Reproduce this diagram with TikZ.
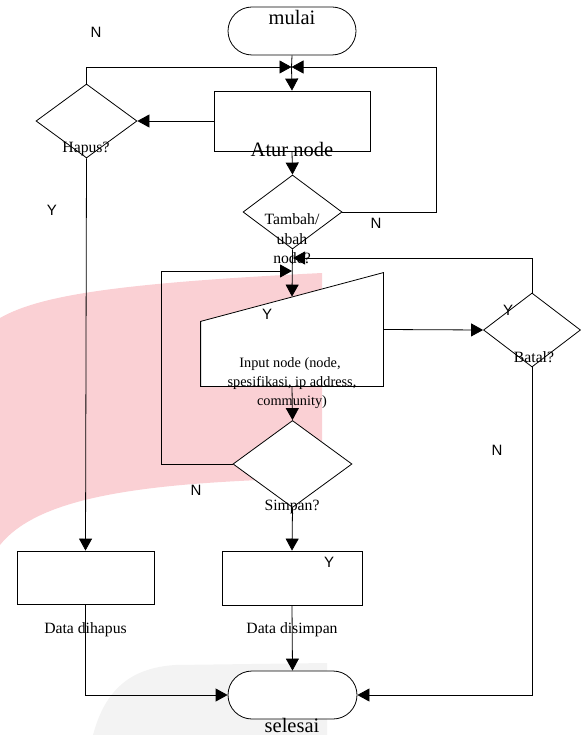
\documentclass[tikz,border=0pt]{standalone}
\usepackage{fontspec}
\setmainfont{Liberation Serif}
\newfontfamily\ynfont{Liberation Sans}
\usetikzlibrary{arrows.meta,shapes.geometric,calc}
\definecolor{wmpink}{RGB}{250,208,212}
\definecolor{wmgray}{RGB}{243,243,243}
\begin{document}
\begin{tikzpicture}[x=1pt,y=-1pt,line width=0.8pt,
  arr/.style={-{Triangle[length=12pt,width=13pt]}},
  box/.style={draw,fill=white,inner sep=0pt},
  term/.style={draw,fill=white,rounded corners=24pt,inner sep=0pt,minimum height=48pt},
  dec/.style={draw,fill=white,diamond,inner sep=0pt},
  big/.style={font=\fontsize{20.5}{24}\selectfont,inner sep=0pt,anchor=base},
  lbl/.style={font=\fontsize{15.7}{19}\selectfont,inner sep=0pt,anchor=base},
  lblsm/.style={font=\fontsize{14.3}{19}\selectfont,inner sep=0pt,anchor=base},
  yn/.style={font=\ynfont\fontsize{15}{18}\selectfont,inner sep=0pt,anchor=base},
]
\useasboundingbox (0,0) rectangle (580,735);
% watermark
\fill[wmpink] (0,318) .. controls (40,295) and (120,283) .. (322,273) -- (322,478)
  .. controls (150,482) and (40,495) .. (0,545) -- cycle;
\fill[wmgray] (93,735) .. controls (105,690) and (130,668) .. (175,665) -- (327,663) -- (327,735) -- cycle;

% shapes
\node[term,minimum width=128pt] (start) at (292,31) {};
\node[box,minimum width=156pt,minimum height=60pt] (atur) at (292,121) {};
\node[dec,minimum width=101pt,minimum height=74pt] (hapus) at (86.5,121) {};
\node[dec,minimum width=99pt,minimum height=74pt] (tambah) at (292.5,212) {};
\node[inner sep=0pt,minimum width=182pt,minimum height=113pt] (inp) at (292,329.5) {};
\draw[fill=white] (inp.south west) -- (inp.south east) -- (inp.north east) -- ($(inp.south west)+(0,-65)$) -- cycle;
\coordinate (intop) at ($(inp.north)+(0,24)$);
\node[dec,minimum width=97pt,minimum height=74pt] (batal) at (532,330) {};
\node[dec,minimum width=119pt,minimum height=87pt] (simpan) at (292.5,464) {};
\node[box,minimum width=137pt,minimum height=53pt] (hps) at (85.5,577.5) {};
\node[box,minimum width=140pt,minimum height=54pt] (smp) at (292,578) {};
\node[term,minimum width=129pt] (end) at (292.5,695) {};

% connectors
\coordinate (m1) at (291.5,67);
\coordinate (rc) at (436,67);
\coordinate (lc) at (161,271);
\coordinate (m2) at (292,271);
\coordinate (m3) at (293,258);
\draw (start.south) -- (m1);
\draw[arr] (m1) -- (atur.north);
\draw[arr] (hapus.north) |- (m1);
\draw[arr] (tambah.east) -| (rc) -- (m1);
\draw[arr] (atur.west) -- (hapus.east);
\draw[arr] (atur.south) -- (tambah.north);
\draw[arr] (tambah.south) -- (intop);
\draw[arr] (simpan.west) -| (lc) -- (m2);
\draw[arr] (batal.north) |- (m3);
\draw[arr] (inp.east) -- (batal.west);
\draw[arr] (inp.south) -- (simpan.north);
\draw[arr] (simpan.south) -- (smp.north);
\draw[arr] (hapus.south) -- (hps.north);
\draw[arr] (hps.south) |- (end.west);
\draw[arr] (smp.south) -- (end.north);
\draw[arr] (batal.south) |- (end.east);

% labels
\node[big] (tstart) at (292,25) {mulai};
\node[big] (tatur) at (292,157) {Atur node};
\node[big] (tend) at (292,732) {selesai};
\node[lbl] (thapus) at (86,153) {Hapus?};
\node[lbl] (tt1) at (292,225) {Tambah/};
\node[lbl] (tt2) at (292,244) {ubah};
\node[lbl] (tt3) at (292,263) {node?};
\node[lblsm] (ti1) at (290,367) {Input node (node,};
\node[lblsm] (ti2) at (292,386) {spesifikasi, ip address,};
\node[lblsm] (ti3) at (292,405) {community)};
\node[lbl] (tbatal) at (534,362) {Batal?};
\node[lbl] (tsimpan) at (292,510) {Simpan?};
\node[lbl] (thps) at (85.5,633) {Data dihapus};
\node[lbl] (tsmp) at (292,633) {Data disimpan};
\node[yn] (n1) at (96,38) {N};
\node[yn] (y1) at (52,215) {Y};
\node[yn] (n2) at (376,228) {N};
\node[yn] (y2) at (267,319) {Y};
\node[yn] (y3) at (508,315) {Y};
\node[yn] (n3) at (497,455) {N};
\node[yn] (n4) at (196,495) {N};
\node[yn] (y4) at (329,567) {Y};
\end{tikzpicture}
\end{document}
